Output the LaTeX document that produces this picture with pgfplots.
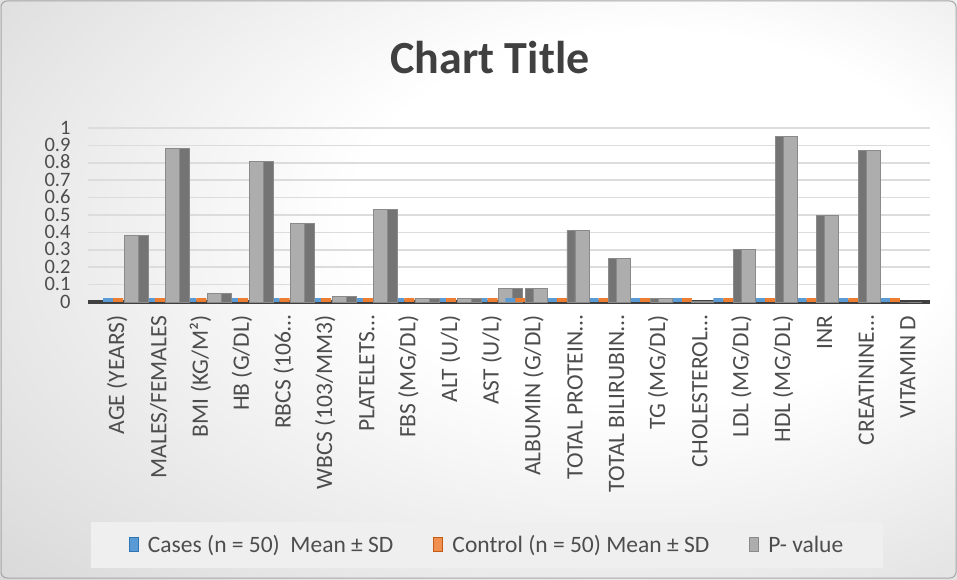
\documentclass[border=0pt]{standalone}
\usepackage{pgfplots}
\pgfplotsset{compat=1.18}
\usepackage{pgfplotstable}
\usepackage{fontspec}
\setmainfont{Carlito}
\definecolor{txt}{HTML}{4D4D4D}
\definecolor{ttl}{HTML}{404040}
\definecolor{cblue}{HTML}{5B9BD5}
\definecolor{cblueD}{HTML}{2E75B6}
\definecolor{corange}{HTML}{ED7D31}
\definecolor{corangeD}{HTML}{C55A11}
\definecolor{cgrayF}{HTML}{ADADAD}
\definecolor{cgrayD}{HTML}{747474}
\definecolor{cgrayE}{HTML}{8A8A8A}
\definecolor{gridc}{HTML}{DCDCDC}
\definecolor{floorc}{HTML}{404040}
\definecolor{legbg}{HTML}{EFEFEF}
\pgfdeclareradialshading{bgshade}{\pgfpoint{12bp}{8bp}}{color(0bp)=(white); color(16bp)=(white); color(50bp)=(black!20); color(72bp)=(black!27)}

\pgfplotstableread{
x cases control pvalue
0 0 0 0.38
1 0 0 0.88
2 0 0 0.05
3 0 0 0.81
4 0 0 0.45
5 0 0 0.03
6 0 0 0.53
7 0 0 0.02
8 0 0 0.02
9 0 0 0.08
}\leftdata
\pgfplotstableread{
x cases control pvalue
10 0 0 0.08
11 0 0 0.41
12 0 0 0.25
13 0 0 0.02
14 0 0 0.005
15 0 0 0.30
16 0 0 0.95
17 0 0 0.50
18 0 0 0.87
19 0 0 0
}\rightdata

\begin{document}
\begin{tikzpicture}[x=1pt,y=1pt]
\useasboundingbox (0,0) rectangle (957,579);
\shade[shading=bgshade] (0,0) rectangle (957,579);
\draw[black!35, line width=1pt, rounded corners=6pt] (1,1) rectangle (956,578);
\node[text=ttl, font=\fontsize{46}{50}\selectfont\bfseries] at (490,521) {Chart Title};
\begin{axis}[
  at={(88pt,277pt)}, anchor=south west,
  scale only axis, width=842pt, height=174pt,
  xmin=-0.7, xmax=19.53, ymin=0, ymax=1,
  clip=false,
  axis lines=left,
  y axis line style={draw=none},
  x axis line style={draw=floorc, line width=3.5pt, -},
  ytick={0,0.1,0.2,0.3,0.4,0.5,0.6,0.7,0.8,0.9,1},
  yticklabels={0,0.1,0.2,0.3,0.4,0.5,0.6,0.7,0.8,0.9,1},
  xtick={0,...,19},
  xticklabels={AGE (YEARS),MALES/FEMALES,BMI (KG/M²),HB (G/DL),RBCS (106…,{WBCS (103/MM3)},PLATELETS…,FBS (MG/DL),ALT (U/L),AST (U/L),ALBUMIN (G/DL),TOTAL PROTEIN…,TOTAL BILIRUBIN…,TG (MG/DL),CHOLESTEROL…,LDL (MG/DL),HDL (MG/DL),INR,CREATININE…,VITAMIN D},
  major tick length=0pt,
  ymajorgrids, major grid style={draw=gridc, line width=1.6pt},
  xticklabel style={rotate=90, anchor=east, font=\fontsize{23.5}{24}\selectfont, text=txt},
  xticklabel shift=10pt,
  yticklabel style={font=\fontsize{20.5}{21}\selectfont, text=txt, inner ysep=0pt, text height=12pt, text depth=0pt},
  yticklabel shift=14pt,
  legend columns=3,
  legend style={at={(0.474,-1.397)}, anchor=center, fill=legbg, draw=none,
    inner xsep=38pt, inner ysep=12pt, font=\fontsize{23.5}{25}\selectfont, text=txt,
    /tikz/every odd column/.append style={column sep=7pt},
    /tikz/every even column/.append style={column sep=38pt}},
  legend image code/.code={\draw[#1] (0pt,-6pt) rectangle (9pt,8pt);},
]
\addlegendimage{fill=cblue, draw=cblueD, line width=1pt}
\addlegendentry{Cases (n = 50)\ \ Mean ± SD}
\addlegendimage{fill=corange!85!white, draw=corangeD, line width=1pt}
\addlegendentry{Control (n = 50) Mean ± SD}
\addlegendimage{fill=cgrayF, draw=cgrayE, line width=1pt}
\addlegendentry{P- value}

% left half
\addplot[ybar, bar width=10pt, bar shift=-9pt, draw=cblue, line width=3.5pt, yshift=2pt, forget plot] table[x=x,y=cases]{\leftdata};
\addplot[ybar, bar width=10pt, bar shift=1pt, draw=corange, line width=3.5pt, yshift=2pt, forget plot] table[x=x,y=control]{\leftdata};
\addplot[ybar, bar width=24pt, bar shift=19pt, fill=cgrayD, draw=cgrayE, line width=0.8pt, forget plot] table[x=x,y=pvalue]{\leftdata};
\addplot[ybar, bar width=14pt, bar shift=14pt, fill=cgrayF, draw=cgrayE, line width=0.8pt, forget plot] table[x=x,y=pvalue]{\leftdata};
% right half
\addplot[ybar, bar width=10pt, bar shift=-23pt, draw=cblue, line width=3.5pt, yshift=2pt, forget plot] table[x=x,y=cases]{\rightdata};
\addplot[ybar, bar width=10pt, bar shift=-13pt, draw=corange, line width=3.5pt, yshift=2pt, forget plot] table[x=x,y=control]{\rightdata};
\addplot[ybar, bar width=22pt, bar shift=3pt, fill=cgrayD, draw=cgrayE, line width=0.8pt, forget plot] table[x=x,y=pvalue]{\rightdata};
\addplot[ybar, bar width=14pt, bar shift=7pt, fill=cgrayF, draw=cgrayE, line width=0.8pt, forget plot] table[x=x,y=pvalue]{\rightdata};
\end{axis}
\end{tikzpicture}
\end{document}
